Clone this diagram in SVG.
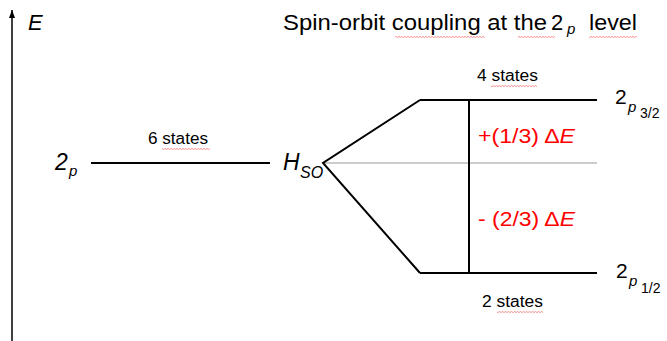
<svg xmlns="http://www.w3.org/2000/svg" width="667" height="341" viewBox="0 0 667 341">
<style>
text{font-family:"Liberation Sans",Arial,sans-serif;fill:#000}
.lvl{stroke:#000;stroke-width:2;fill:none}
.thin{stroke:#999;stroke-width:1;fill:none}
.red{fill:#ff0000}
.it{font-style:italic}
.sq{fill:url(#zig)}
</style>
<defs>
<marker id="ah" markerWidth="8" markerHeight="6" refX="8" refY="3" orient="auto" markerUnits="userSpaceOnUse">
<path d="M0,0 L8,3 L0,6 Z" fill="#000"/>
</marker>
<pattern id="zig" width="3" height="2" patternUnits="userSpaceOnUse">
<path d="M0,0.4 L1.5,1.6 L3,0.4" stroke="#f07070" stroke-width="0.8" fill="none"/>
</pattern>
</defs>
<rect width="667" height="341" fill="#fff"/>
<g id="axis">
<line x1="12" y1="341" x2="12" y2="10" stroke="#000" stroke-width="1.5" marker-end="url(#ah)"/>
<text x="28" y="30" font-size="22" class="it">E</text>
</g>
<g id="title">
<text x="283" y="30" font-size="22" textLength="264" lengthAdjust="spacingAndGlyphs">Spin-orbit coupling at the</text>
<text x="551" y="30" font-size="22">2</text>
<text x="567" y="34" font-size="15" class="it">p</text>
<text x="589" y="30" font-size="22" textLength="48" lengthAdjust="spacingAndGlyphs">level</text>
</g>
<g id="level-2p">
<text x="55" y="170" font-size="23" class="it">2</text>
<text x="69" y="176" font-size="15" class="it">p</text>
<line class="lvl" x1="91" y1="163" x2="270" y2="163"/>
<text x="148" y="144" font-size="16" textLength="60" lengthAdjust="spacingAndGlyphs">6 states</text>
</g>
<g id="hso">
<text x="283" y="170" font-size="23" class="it">H</text>
<text x="300" y="178" font-size="16" class="it">SO</text>
</g>
<g id="level-2p32">
<line class="lvl" x1="420" y1="100" x2="597" y2="100"/>
<text x="477" y="81" font-size="16" textLength="61" lengthAdjust="spacingAndGlyphs">4 states</text>
<text x="615" y="104" font-size="21">2</text>
<text x="628" y="112" font-size="15" class="it">p</text>
<text x="640" y="118" font-size="14">3/2</text>
</g>
<g id="level-2p12">
<line class="lvl" x1="420" y1="273" x2="597" y2="273"/>
<text x="482" y="307" font-size="16" textLength="61" lengthAdjust="spacingAndGlyphs">2 states</text>
<text x="616" y="278" font-size="21">2</text>
<text x="629" y="286" font-size="15" class="it">p</text>
<text x="641" y="293" font-size="14">1/2</text>
</g>
<g id="labels">
<text x="478" y="143" font-size="21" class="red" textLength="97" lengthAdjust="spacingAndGlyphs">+(1/3) Δ<tspan class="it">E</tspan></text>
<text x="478" y="226" font-size="21" class="red" textLength="97" lengthAdjust="spacingAndGlyphs">- (2/3) Δ<tspan class="it">E</tspan></text>
</g>
<g id="connectors">
<line class="thin" x1="323" y1="163" x2="597" y2="163"/>
<polyline class="lvl" points="420,100 323,163 420,273" stroke-linejoin="miter"/>
<line x1="469" y1="100" x2="469" y2="273" stroke="#000" stroke-width="2"/>
</g>
<g id="squiggles">
<rect class="sq" x="395" y="36" width="90" height="2"/>
<rect class="sq" x="518" y="36" width="37" height="2"/>
<rect class="sq" x="589" y="36" width="48" height="2"/>
<rect class="sq" x="162" y="148" width="48" height="2"/>
<rect class="sq" x="491" y="85" width="46" height="2"/>
<rect class="sq" x="497" y="311" width="46" height="2"/>
</g>
</svg>
